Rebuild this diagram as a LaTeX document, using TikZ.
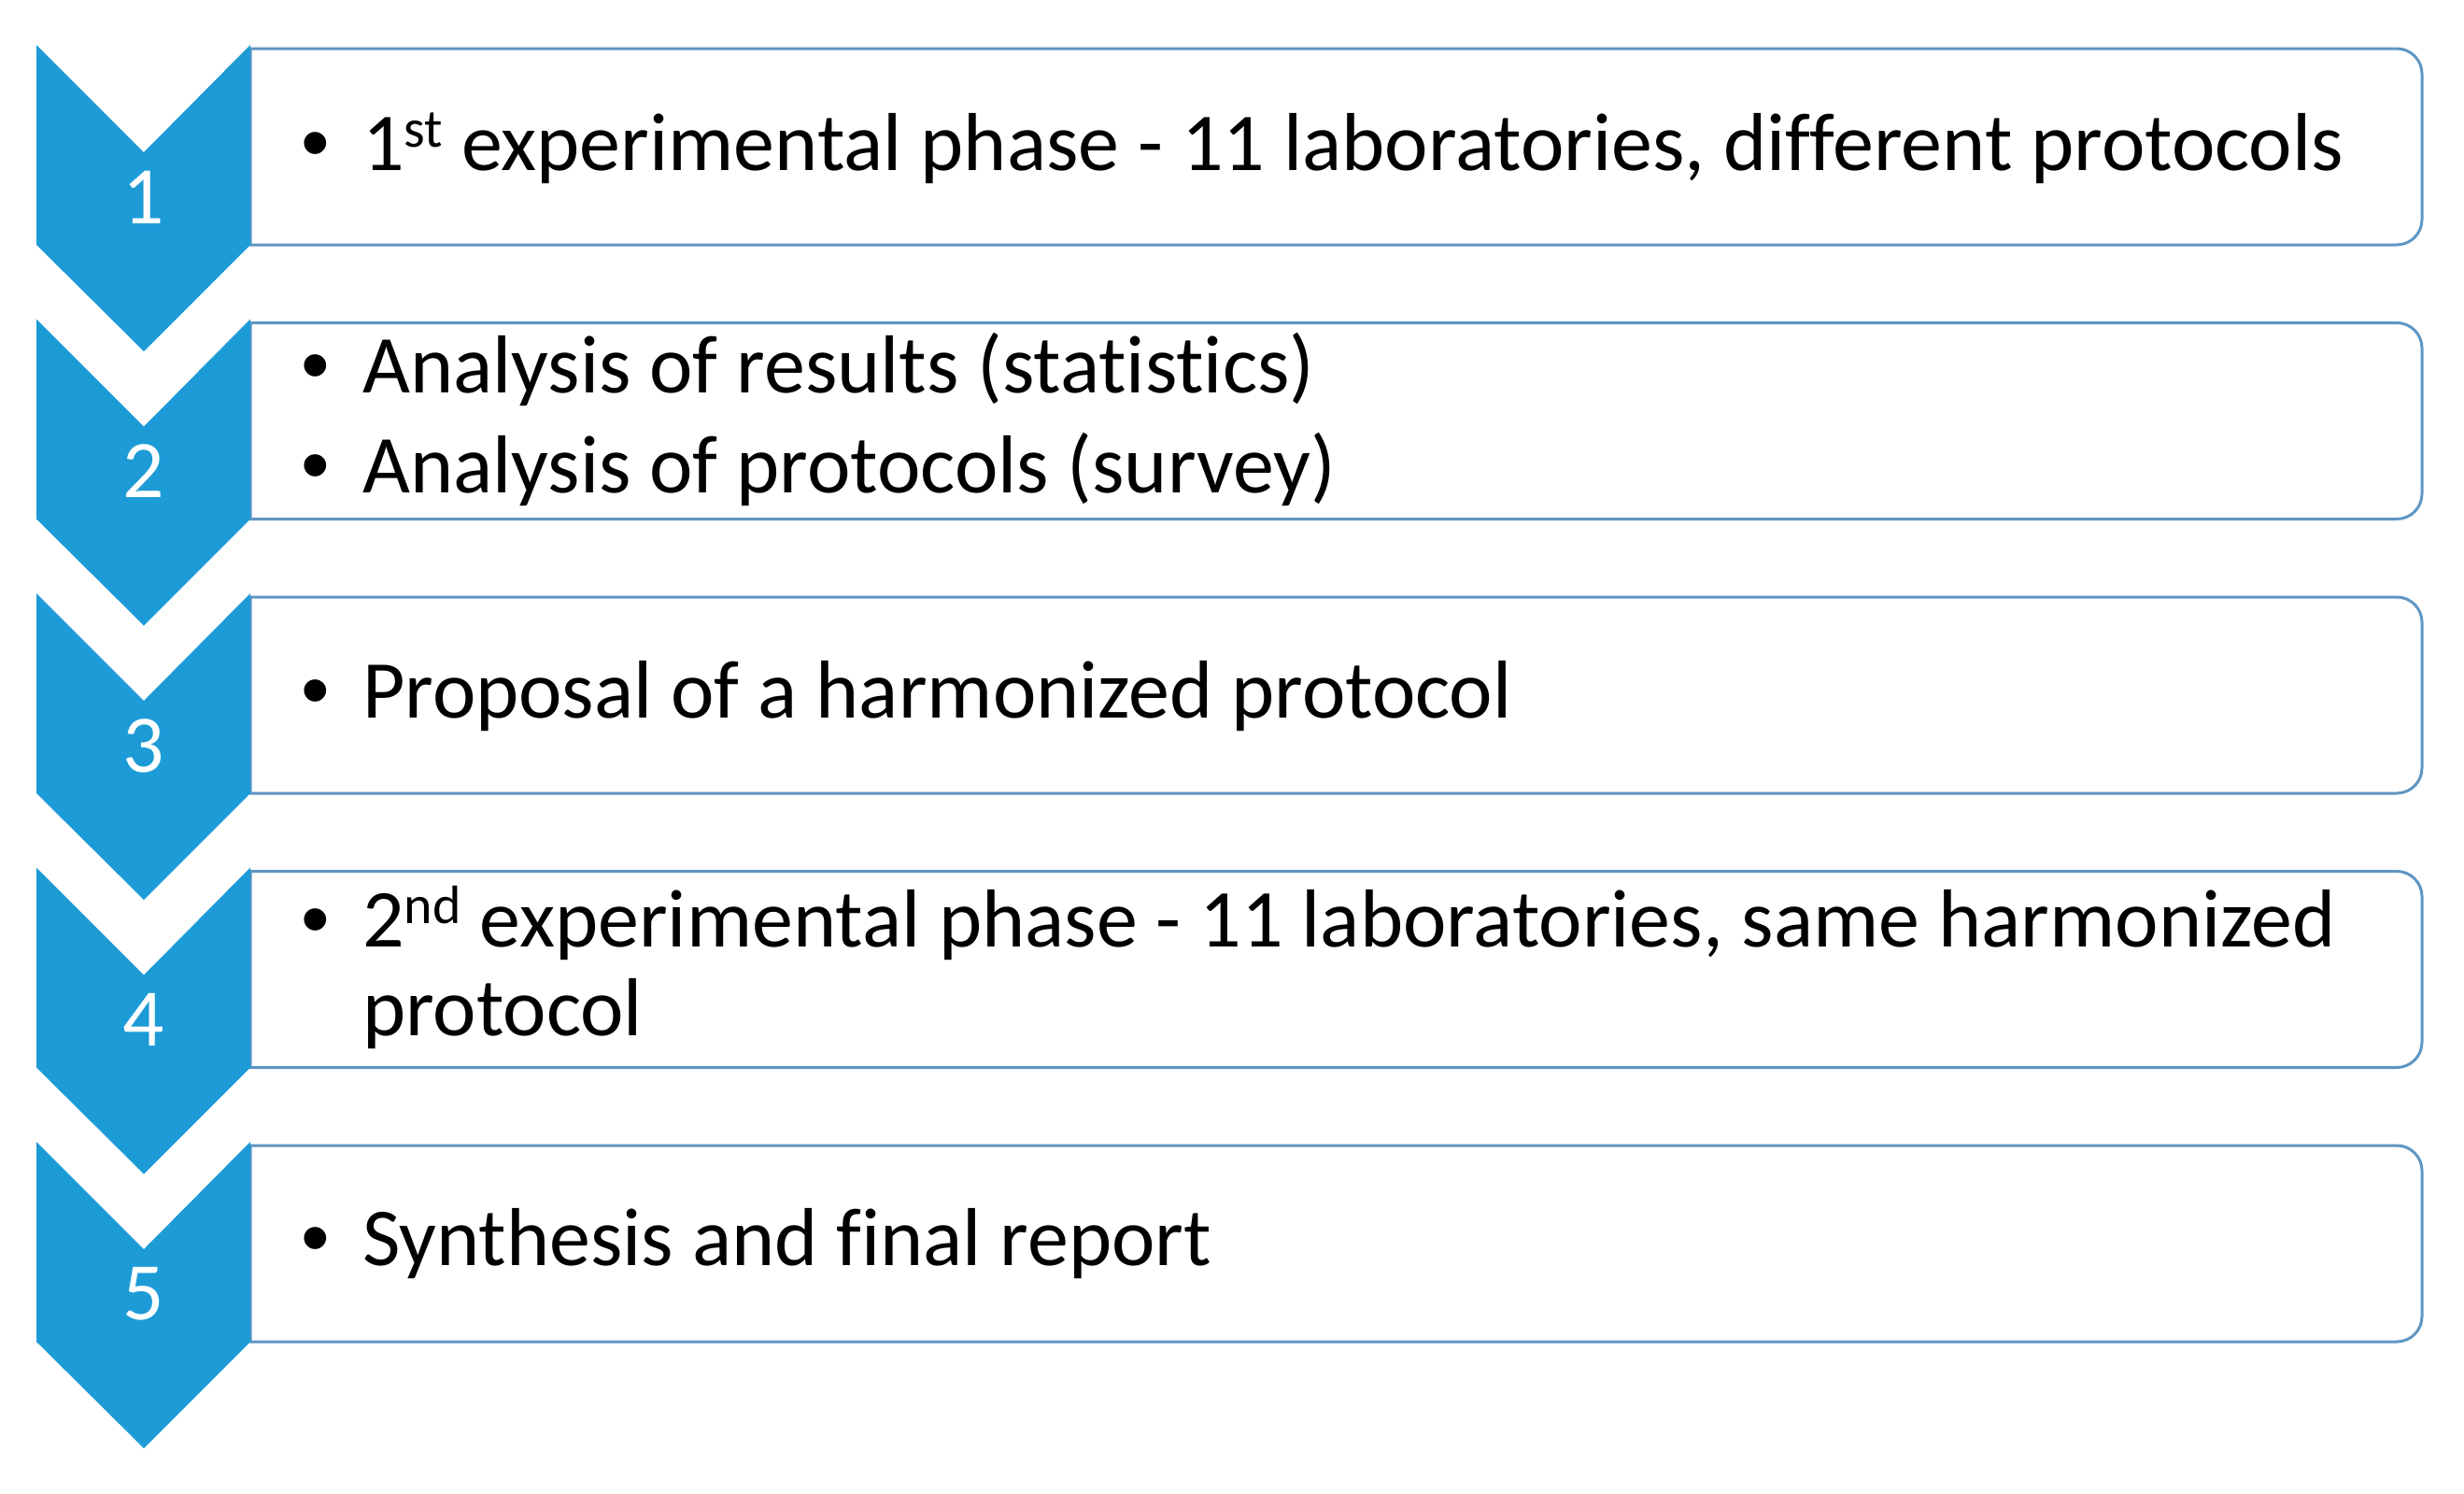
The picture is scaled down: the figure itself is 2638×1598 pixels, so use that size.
\documentclass[tikz,border=0pt]{standalone}
\usepackage{fontspec}
\setmainfont[Ligatures={NoCommon}]{Carlito}
\newfontfamily\bulfont{Liberation Sans}
\definecolor{chev}{RGB}{29,155,215}
\definecolor{boxline}{RGB}{95,150,195}
\newcommand\supr[1]{\raisebox{25pt}{\fontsize{58}{60}\selectfont #1}}
\begin{document}
\begin{tikzpicture}[x=1pt,y=-1pt,
  chevshape/.style={fill=chev,draw=none},
  boxshape/.style={draw=boxline,line width=3pt,fill=white},
  numtext/.style={text=white,font=\fontsize{87.5}{90}\selectfont,inner sep=0pt,anchor=center},
  itemtext/.style={font=\fontsize{88}{95}\selectfont,inner sep=0pt,anchor=base west,text=black},
  bultext/.style={font=\bulfont\fontsize{87.5}{95}\selectfont,inner sep=0pt,anchor=base,text=black}]
\fill[white] (0,0) rectangle (2638,1598);
\useasboundingbox (0,0) rectangle (2638,1598);
% boxes
\foreach \i/\T in {1/48,2/341.5,3/635,4/928.5,5/1222}{
  \draw[boxshape] (268,\T+4) -- (2566,\T+4)
     .. controls (2580.9,\T+4) and (2593,\T+16.1) .. (2593,\T+31)
     -- (2593,\T+187)
     .. controls (2593,\T+201.9) and (2580.9,\T+214) .. (2566,\T+214)
     -- (268,\T+214) -- cycle;
}
% chevrons with numbers
\foreach \i/\T in {1/48,2/341.5,3/635,4/928.5,5/1222}{
  \fill[chevshape] (39,\T) -- (154,\T+115) -- (268,\T) -- (268,\T+214)
     -- (154,\T+328) -- (39,\T+214) -- cycle;
  \node[numtext] (n\i) at (154,\T+163) {\i};
}
% texts
\node[bultext] (b1) at (338,182) {•};
\node[itemtext] (t1) at (388,182) {1\supr{st} experimental phase - 11 laboratories, different protocols};
\node[bultext] (b2a) at (338,420) {•};
\node[itemtext] (t2a) at (388,420) {Analysis of results (statistics)};
\node[bultext] (b2b) at (338,527) {•};
\node[itemtext] (t2b) at (388,527) {Analysis of protocols (survey)};
\node[bultext] (b3) at (338,768) {•};
\node[itemtext] (t3) at (388,768) {Proposal of a harmonized protocol};
\node[bultext] (b4) at (338,1013) {•};
\node[itemtext] (t4a) at (388,1013) {2\supr{nd} experimental phase - 11 laboratories, same harmonized};
\node[itemtext] (t4b) at (388,1108) {protocol};
\node[bultext] (b5) at (338,1354) {•};
\node[itemtext] (t5) at (388,1354) {Synthesis and final report};
\end{tikzpicture}
\end{document}
